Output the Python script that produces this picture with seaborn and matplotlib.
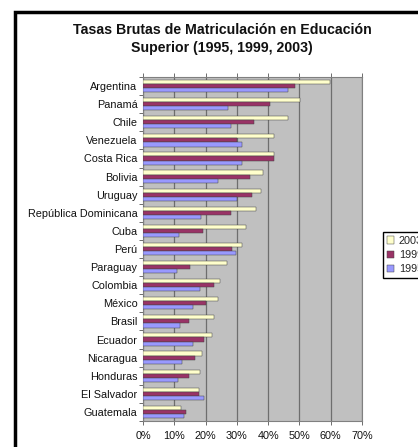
import matplotlib
matplotlib.use("Agg")
import matplotlib.pyplot as plt
from matplotlib.patches import Rectangle
from matplotlib.ticker import FixedLocator
import seaborn as sns
import pandas as pd
import numpy as np

countries = ["Argentina", "Panamá", "Chile", "Venezuela", "Costa Rica", "Bolivia",
             "Uruguay", "República Dominicana", "Cuba", "Perú", "Paraguay", "Colombia",
             "México", "Brasil", "Ecuador", "Nicaragua", "Honduras", "El Salvador",
             "Guatemala"]
v2003 = [59.8, 50.3, 46.2, 42.0, 42.0, 38.5, 37.8, 36.1, 32.9, 31.7, 26.7, 24.5,
         24.1, 22.8, 22.0, 18.9, 18.1, 17.8, 12.2]
v1999 = [48.7, 40.6, 35.6, 30.2, 41.8, 34.1, 34.9, 28.0, 19.3, 28.4, 14.9, 22.8,
         20.2, 14.6, 19.4, 16.7, 14.6, 18.0, 13.9]
v1995 = [46.5, 27.1, 28.2, 31.5, 31.7, 24.0, 30.0, 18.4, 11.5, 29.7, 10.9, 18.1,
         15.9, 11.9, 16.0, 12.4, 11.1, 19.5, 13.1]
series = ["2003", "1999", "1995"]
xticks = [0, 10, 20, 30, 40, 50, 60, 70]
title = "Tasas Brutas de Matriculación en Educación\nSuperior (1995, 1999, 2003)"

rows = []
for s, vals in zip(series, [v2003, v1999, v1995]):
    for c, v in zip(countries, vals):
        rows.append({"País": c, "Año": s, "Tasa": v})
df = pd.DataFrame(rows)

sns.set_theme(style="white")
plt.rcParams["font.family"] = ["Liberation Sans", "DejaVu Sans"]

W, H = 418, 447
fig = plt.figure(figsize=(W / 100, H / 100), dpi=100)
ax = fig.add_axes([143 / W, 1 - 421 / H, (362 - 143) / W, (421 - 77) / H])

palette = {"2003": "#FFFFCC", "1999": "#993366", "1995": "#9999FF"}
sns.barplot(data=df, y="País", x="Tasa", hue="Año", hue_order=series, order=countries,
            palette=palette, orient="h", width=0.68, ax=ax,
            edgecolor="#444444", linewidth=0.35, saturation=1, zorder=3)

ax.set_facecolor("#C0C0C0")
ax.set_xlim(0, 70)
ax.set_ylim(len(countries) - 0.5, -0.5)
ax.set_xticks(xticks)
ax.set_xticklabels([f"{t}%" for t in xticks], fontsize=7.8, color="#111111")
ax.xaxis.grid(True, color="#6E6E6E", linewidth=0.9, zorder=1)
ax.set_axisbelow(True)
ax.set_xlabel("")
ax.set_ylabel("")
ax.tick_params(axis="y", labelsize=7.8, length=0, pad=4, colors="#111111")
ax.yaxis.set_minor_locator(FixedLocator(np.arange(-0.5, len(countries), 1)))
ax.tick_params(axis="y", which="minor", length=3, color="#555555", width=0.6, left=True)
ax.tick_params(axis="x", length=3, color="#555555", width=0.6, bottom=True, top=True,
               pad=4)
for sp in ax.spines.values():
    sp.set_color("#808080")
    sp.set_linewidth(0.8)

leg = ax.get_legend()
handles = leg.legend_handles
leg.remove()
fig.legend(handles, series, loc="upper left", bbox_to_anchor=(383 / W, 1 - 232 / H),
           fontsize=7.8, frameon=True, fancybox=False, edgecolor="#000000",
           framealpha=1, handlelength=0.7, handleheight=0.7, handletextpad=0.4,
           borderpad=0.35, labelspacing=0.4, borderaxespad=0)

fig.text(222 / W, 1 - 39 / H, title, ha="center", va="center", fontsize=10.2,
         fontweight="bold", color="#111111", linespacing=1.35)

fig.patches.append(Rectangle((14.5 / W, -0.05), 1.2, 1 - 11.5 / H + 0.05,
                             transform=fig.transFigure, fill=False,
                             edgecolor="#000000", linewidth=2.5, zorder=10))

fig.savefig("out.png", dpi=100, facecolor="white")
